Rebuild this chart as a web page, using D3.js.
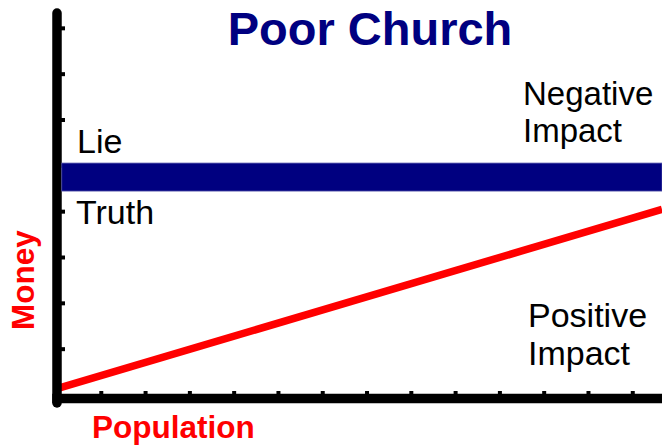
<!DOCTYPE html>
<html>
<head>
<meta charset="utf-8">
<script src="https://cdn.jsdelivr.net/npm/d3@7"></script>
<style>
  body { margin: 0; background: #fff; }
  svg text { font-family: "Liberation Sans", Arial, sans-serif; }
</style>
</head>
<body>
<div id="chart"></div>
<script>
// data
var title = "Poor Church";
var xLabel = "Population", yLabel = "Money";
var xTicks = d3.range(1, 14);          // 13 small ticks on population axis
var yTicks = d3.range(1, 9);           // 8 small ticks on money axis
var xMax = 13.66, yMax = 8.4;
var truthLine = [[0, 0.14], [13.66, 4.05]];   // population vs money (red)
var lieBand = [4.45, 5.06];                   // money band (blue)
var bandLabels = ["Lie", "Truth"];
var negLabel = ["Negative", "Impact"], posLabel = ["Positive", "Impact"];

var W = 662, H = 445;
var navy = "#000080", red = "#ff0000";
var axisW = 9.5;

var svg = d3.select("#chart").append("svg")
	.attr("width", W)
	.attr("height", H);

var x = d3.scaleLinear().domain([0, xMax]).range([57, 662]);
var y = d3.scaleLinear().domain([0, yMax]).range([395, 10]);

// red line
svg.append("path")
	.datum(truthLine)
	.attr("d", d3.line().x(function(d) { return x(d[0]); }).y(function(d) { return y(d[1]); }))
	.attr("fill", "none")
	.attr("stroke", red)
	.attr("stroke-width", 7.5);

// ticks
svg.selectAll("rect.xtick").data(xTicks).enter().append("rect")
	.attr("class", "xtick")
	.attr("x", function(d) { return x(d) - 2; })
	.attr("y", y(0) - 4)
	.attr("width", 4)
	.attr("height", 6)
	.attr("fill", "#000");

svg.selectAll("rect.ytick").data(yTicks).enter().append("rect")
	.attr("class", "ytick")
	.attr("x", x(0))
	.attr("y", function(d) { return y(d) - 2; })
	.attr("width", 8)
	.attr("height", 4)
	.attr("fill", "#000");

// axes
svg.append("line")
	.attr("x1", x(0)).attr("x2", x(0))
	.attr("y1", y(yMax) + 3).attr("y2", y(0) + 8)
	.attr("stroke", "#000")
	.attr("stroke-width", axisW)
	.attr("stroke-linecap", "round");

svg.append("line")
	.attr("x1", x(0) - axisW / 2).attr("x2", x(xMax))
	.attr("y1", y(0) + 3.5).attr("y2", y(0) + 3.5)
	.attr("stroke", "#000")
	.attr("stroke-width", axisW);

// blue band
svg.append("rect")
	.attr("x", x(0) + axisW / 2)
	.attr("y", y(lieBand[1]))
	.attr("width", x(xMax) - x(0) - axisW / 2)
	.attr("height", y(lieBand[0]) - y(lieBand[1]))
	.attr("fill", navy)
	.attr("stroke", "#5050a8")
	.attr("stroke-width", 0.8);

// title
svg.append("text")
	.attr("x", 370)
	.attr("y", 45)
	.attr("text-anchor", "middle")
	.attr("font-size", 47)
	.attr("font-weight", "bold")
	.attr("fill", navy)
	.text(title);

// band labels
svg.append("text").attr("x", 77).attr("y", 153)
	.attr("font-size", 34).attr("fill", "#000").text(bandLabels[0]);
svg.append("text").attr("x", 76).attr("y", 224)
	.attr("font-size", 34).attr("fill", "#000").text(bandLabels[1]);

// impact labels
function twoLines(lines, x0, y0, gap, size) {
	var t = svg.append("text")
		.attr("font-size", size)
		.attr("fill", "#000");
	t.selectAll("tspan").data(lines).enter().append("tspan")
		.attr("x", x0)
		.attr("y", function(d, i) { return y0 + i * gap; })
		.text(function(d) { return d; });
}
twoLines(negLabel, 523, 105, 37, 33);
twoLines(posLabel, 528, 327, 38, 34);

// axis labels
svg.append("text")
	.attr("x", 92).attr("y", 438)
	.attr("font-size", 31.5)
	.attr("font-weight", "bold")
	.attr("fill", red)
	.text(xLabel);

svg.append("text")
	.attr("transform", "translate(34,280) rotate(-90)")
	.attr("text-anchor", "middle")
	.attr("font-size", 31.5)
	.attr("font-weight", "bold")
	.attr("fill", red)
	.text(yLabel);
</script>
</body>
</html>
